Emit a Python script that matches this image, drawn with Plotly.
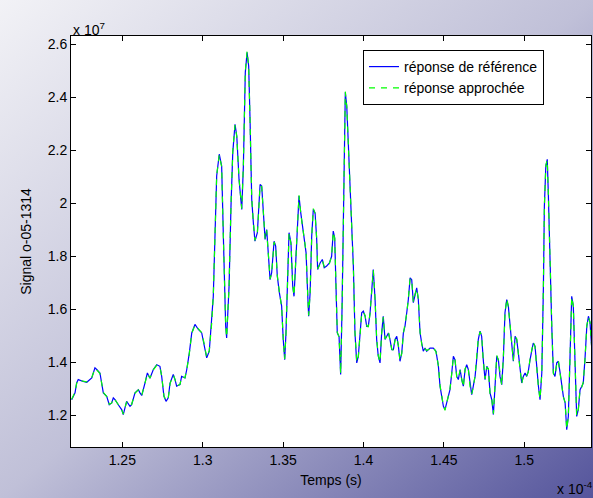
import base64
import plotly.graph_objects as go

# time in units of 1e-4 s
time_e4 = [
    1.2185, 1.2206, 1.2216, 1.2226, 1.2257, 1.2279, 1.2310, 1.2330, 1.2341, 1.2361,
    1.2382, 1.2403, 1.2419, 1.2434, 1.2444, 1.2455, 1.2475, 1.2496, 1.2506, 1.2527,
    1.2548, 1.2558, 1.2579, 1.2600, 1.2610, 1.2621, 1.2641, 1.2656, 1.2672, 1.2693,
    1.2714, 1.2734, 1.2745, 1.2759, 1.2772, 1.2786, 1.2797, 1.2817, 1.2828, 1.2838,
    1.2859, 1.2869, 1.2890, 1.2901, 1.2917, 1.2932, 1.2952, 1.2973, 1.2994, 1.3008,
    1.3025, 1.3041, 1.3056, 1.3066, 1.3077, 1.3087, 1.3103, 1.3118, 1.3128, 1.3134,
    1.3143, 1.3149, 1.3164, 1.3176, 1.3187, 1.3201, 1.3212, 1.3226, 1.3243, 1.3253,
    1.3265, 1.3276, 1.3286, 1.3294, 1.3305, 1.3315, 1.3325, 1.3340, 1.3350, 1.3357,
    1.3367, 1.3377, 1.3388, 1.3398, 1.3408, 1.3419, 1.3429, 1.3444, 1.3454, 1.3464,
    1.3477, 1.3491, 1.3501, 1.3510, 1.3518, 1.3526, 1.3537, 1.3549, 1.3560, 1.3568,
    1.3580, 1.3589, 1.3599, 1.3610, 1.3620, 1.3630, 1.3643, 1.3651, 1.3659, 1.3668,
    1.3678, 1.3688, 1.3699, 1.3709, 1.3715, 1.3730, 1.3744, 1.3756, 1.3771, 1.3788,
    1.3802, 1.3812, 1.3821, 1.3829, 1.3837, 1.3848, 1.3858, 1.3867, 1.3875, 1.3881,
    1.3887, 1.3896, 1.3906, 1.3916, 1.3927, 1.3937, 1.3947, 1.3958, 1.3968, 1.3978,
    1.3989, 1.3999, 1.4010, 1.4020, 1.4030, 1.4041, 1.4051, 1.4061, 1.4072, 1.4082,
    1.4092, 1.4103, 1.4113, 1.4123, 1.4134, 1.4145, 1.4155, 1.4165, 1.4176, 1.4186,
    1.4196, 1.4207, 1.4217, 1.4227, 1.4238, 1.4248, 1.4258, 1.4269, 1.4279, 1.4290,
    1.4300, 1.4310, 1.4321, 1.4331, 1.4341, 1.4352, 1.4362, 1.4372, 1.4383, 1.4393,
    1.4414, 1.4434, 1.4451, 1.4466, 1.4476, 1.4487, 1.4497, 1.4507, 1.4518, 1.4528,
    1.4538, 1.4549, 1.4559, 1.4569, 1.4580, 1.4590, 1.4601, 1.4611, 1.4621, 1.4632,
    1.4642, 1.4652, 1.4663, 1.4673, 1.4683, 1.4694, 1.4704, 1.4714, 1.4725, 1.4735,
    1.4745, 1.4756, 1.4767, 1.4777, 1.4787, 1.4798, 1.4808, 1.4818, 1.4829, 1.4839,
    1.4849, 1.4860, 1.4870, 1.4880, 1.4891, 1.4901, 1.4912, 1.4922, 1.4932, 1.4943,
    1.4953, 1.4963, 1.4974, 1.4984, 1.4994, 1.5005, 1.5015, 1.5025, 1.5036, 1.5047,
    1.5056, 1.5067, 1.5078, 1.5088, 1.5098, 1.5109, 1.5119, 1.5125, 1.5134, 1.5143,
    1.5150, 1.5160, 1.5171, 1.5181, 1.5191, 1.5202, 1.5212, 1.5223, 1.5233, 1.5243,
    1.5254, 1.5264, 1.5274, 1.5285, 1.5295, 1.5305, 1.5316, 1.5326, 1.5336, 1.5347,
    1.5358, 1.5367, 1.5378, 1.5389, 1.5399, 1.5409, 1.5420,
]

# signal in units of 1e7
reference = [
    1.259, 1.285, 1.322, 1.335, 1.328, 1.325, 1.341, 1.379, 1.373, 1.360,
    1.285, 1.272, 1.240, 1.247, 1.266, 1.259, 1.240, 1.222, 1.203, 1.253,
    1.234, 1.240, 1.285, 1.297, 1.285, 1.275, 1.322, 1.360, 1.340, 1.373,
    1.391, 1.385, 1.347, 1.272, 1.253, 1.266, 1.322, 1.354, 1.335, 1.310,
    1.316, 1.347, 1.341, 1.373, 1.436, 1.511, 1.543, 1.524, 1.511, 1.473,
    1.417, 1.442, 1.549, 1.649, 1.889, 2.103, 2.185, 2.140, 1.889, 1.712,
    1.536, 1.492, 1.687, 1.989, 2.191, 2.298, 2.254, 2.090, 1.977, 2.140,
    2.493, 2.569, 2.518, 2.329, 2.015, 1.927, 1.857, 1.889, 2.027, 2.071,
    2.065, 1.977, 1.864, 1.901, 1.813, 1.712, 1.738, 1.857, 1.838, 1.725,
    1.662, 1.612, 1.486, 1.410, 1.511, 1.687, 1.889, 1.851, 1.687, 1.649,
    1.788, 1.914, 2.027, 1.964, 1.914, 1.864, 1.813, 1.687, 1.574, 1.662,
    1.876, 1.977, 1.964, 1.864, 1.750, 1.775, 1.788, 1.757, 1.763, 1.775,
    1.800, 1.895, 1.870, 1.687, 1.511, 1.498, 1.354, 1.612, 1.927, 2.279,
    2.418, 2.367, 2.229, 2.052, 1.927, 1.763, 1.511, 1.398, 1.423, 1.498,
    1.587, 1.593, 1.574, 1.536, 1.536, 1.587, 1.662, 1.750, 1.637, 1.486,
    1.423, 1.398, 1.511, 1.574, 1.486, 1.500, 1.511, 1.486, 1.448, 1.448,
    1.486, 1.498, 1.461, 1.404, 1.436, 1.511, 1.536, 1.587, 1.637, 1.719,
    1.712, 1.625, 1.662, 1.681, 1.637, 1.511, 1.473, 1.442, 1.454, 1.442,
    1.454, 1.454, 1.442, 1.385, 1.310, 1.272, 1.234, 1.222, 1.247, 1.272,
    1.297, 1.360, 1.423, 1.410, 1.347, 1.335, 1.373, 1.335, 1.310, 1.373,
    1.391, 1.373, 1.310, 1.278, 1.310, 1.347, 1.410, 1.486, 1.518, 1.498,
    1.410, 1.335, 1.385, 1.373, 1.285, 1.259, 1.203, 1.310, 1.423, 1.410,
    1.347, 1.316, 1.417, 1.587, 1.637, 1.612, 1.536, 1.461, 1.404, 1.498,
    1.486, 1.436, 1.360, 1.322, 1.347, 1.360, 1.347, 1.366, 1.410, 1.448,
    1.473, 1.461, 1.373, 1.310, 1.259, 1.360, 1.687, 1.989, 2.140, 2.166,
    2.027, 1.763, 1.536, 1.360, 1.347, 1.398, 1.404, 1.360, 1.310, 1.272,
    1.247, 1.146, 1.196, 1.486, 1.649, 1.612, 1.360, 1.196, 1.222, 1.297,
    1.310, 1.322, 1.417, 1.536, 1.574, 1.549, 1.448,
]

approx = [
    1.261, 1.287, 1.320, 1.334, 1.329, 1.326, 1.342, 1.377, 1.372, 1.358,
    1.287, 1.271, 1.242, 1.246, 1.265, 1.258, 1.241, 1.223, 1.205, 1.251,
    1.235, 1.241, 1.284, 1.296, 1.286, 1.276, 1.321, 1.358, 1.341, 1.372,
    1.389, 1.384, 1.348, 1.274, 1.255, 1.265, 1.320, 1.352, 1.336, 1.311,
    1.317, 1.346, 1.342, 1.372, 1.434, 1.509, 1.541, 1.525, 1.512, 1.474,
    1.419, 1.444, 1.547, 1.652, 1.892, 2.106, 2.182, 2.138, 1.886, 1.715,
    1.539, 1.495, 1.684, 1.992, 2.194, 2.295, 2.251, 2.093, 1.980, 2.143,
    2.497, 2.573, 2.514, 2.325, 2.018, 1.930, 1.860, 1.886, 2.024, 2.068,
    2.062, 1.980, 1.867, 1.898, 1.810, 1.715, 1.735, 1.854, 1.835, 1.728,
    1.665, 1.609, 1.489, 1.413, 1.508, 1.690, 1.886, 1.848, 1.690, 1.652,
    1.785, 1.911, 2.030, 1.961, 1.911, 1.861, 1.816, 1.690, 1.577, 1.659,
    1.873, 1.980, 1.961, 1.867, 1.753, 1.772, 1.785, 1.760, 1.760, 1.772,
    1.803, 1.892, 1.867, 1.690, 1.514, 1.495, 1.357, 1.609, 1.930, 2.282,
    2.421, 2.364, 2.226, 2.055, 1.924, 1.766, 1.514, 1.401, 1.420, 1.495,
    1.584, 1.590, 1.577, 1.539, 1.533, 1.584, 1.665, 1.747, 1.640, 1.489,
    1.426, 1.401, 1.508, 1.571, 1.489, 1.497, 1.514, 1.483, 1.451, 1.445,
    1.483, 1.495, 1.464, 1.407, 1.433, 1.508, 1.539, 1.584, 1.640, 1.716,
    1.709, 1.628, 1.659, 1.678, 1.640, 1.514, 1.470, 1.445, 1.451, 1.445,
    1.451, 1.457, 1.439, 1.388, 1.313, 1.269, 1.237, 1.219, 1.250, 1.269,
    1.300, 1.357, 1.420, 1.413, 1.344, 1.338, 1.370, 1.338, 1.307, 1.376,
    1.388, 1.376, 1.307, 1.281, 1.307, 1.350, 1.407, 1.489, 1.515, 1.501,
    1.407, 1.338, 1.382, 1.376, 1.282, 1.262, 1.206, 1.307, 1.426, 1.407,
    1.350, 1.313, 1.420, 1.584, 1.640, 1.609, 1.539, 1.458, 1.407, 1.495,
    1.489, 1.433, 1.363, 1.319, 1.350, 1.357, 1.350, 1.363, 1.413, 1.445,
    1.476, 1.458, 1.376, 1.307, 1.262, 1.357, 1.690, 1.986, 2.143, 2.163,
    2.030, 1.760, 1.539, 1.357, 1.350, 1.395, 1.407, 1.357, 1.313, 1.269,
    1.250, 1.149, 1.193, 1.489, 1.646, 1.615, 1.357, 1.199, 1.219, 1.300,
    1.307, 1.325, 1.414, 1.539, 1.571, 1.552, 1.451,
]

x_ticks = [1.25, 1.30, 1.35, 1.40, 1.45, 1.50]
x_tick_labels = ["1.25", "1.3", "1.35", "1.4", "1.45", "1.5"]
y_ticks = [1.2, 1.4, 1.6, 1.8, 2.0, 2.2, 2.4, 2.6]
y_tick_labels = ["1.2", "1.4", "1.6", "1.8", "2", "2.2", "2.4", "2.6"]

W, H = 593, 498
ML, MR, MT, MB = 71, 2, 36, 51
PW, PH = W - ML - MR, H - MT - MB

svg = (
    f'<svg xmlns="http://www.w3.org/2000/svg" width="{W}" height="{H}" '
    f'viewBox="0 0 {W} {H}" preserveAspectRatio="none">'
    '<defs><linearGradient id="g" x1="0" y1="0" x2="1" y2="1">'
    '<stop offset="0" stop-color="#f2f2f6"/>'
    '<stop offset="0.5" stop-color="#c0c0d8"/>'
    '<stop offset="1" stop-color="#55559c"/>'
    '</linearGradient></defs>'
    f'<rect x="0" y="0" width="{W}" height="{H}" fill="url(#g)"/></svg>'
)
bg_src = "data:image/svg+xml;base64," + base64.b64encode(svg.encode()).decode()

FONT = "Liberation Sans, Arial, sans-serif"

fig = go.Figure()
fig.add_trace(go.Scatter(
    x=time_e4, y=reference, mode="lines", name="réponse de référence",
    line=dict(color="#0000ff", width=1.2),
))
fig.add_trace(go.Scatter(
    x=time_e4, y=approx, mode="lines", name="réponse approchée",
    line=dict(color="#00ff00", width=1.2, dash="6px,6px"),
))

fig.update_layout(
    width=W, height=H,
    margin=dict(l=ML, r=MR, t=MT, b=MB),
    paper_bgcolor="#c0c0d8",
    plot_bgcolor="white",
    font=dict(family=FONT, size=14, color="black"),
    showlegend=True,
    legend=dict(
        x=(363 - ML) / PW, xanchor="left",
        y=(H - MB - 50) / PH, yanchor="top",
        bgcolor="white", bordercolor="black", borderwidth=1,
        font=dict(size=14), tracegroupgap=0,
        entrywidth=160, entrywidthmode="pixels",
    ),
    images=[dict(
        source=bg_src, xref="paper", yref="paper",
        x=-ML / PW, y=1 + MT / PH, sizex=W / PW, sizey=H / PH,
        xanchor="left", yanchor="top", sizing="stretch", layer="below",
    )],
    shapes=[dict(
        type="rect", xref="paper", yref="paper", x0=0, x1=1, y0=0, y1=1,
        fillcolor="white", line=dict(width=0), layer="below",
    )],
    xaxis=dict(
        range=[1.2181, 1.5415], tickvals=x_ticks, ticktext=x_tick_labels,
        showgrid=False, zeroline=False, showline=True, linecolor="black",
        linewidth=1, mirror="allticks", ticks="inside", ticklen=5,
        tickcolor="black", tickfont=dict(size=14),
        title=dict(text="Temps (s)", font=dict(size=14), standoff=8),
    ),
    yaxis=dict(
        range=[1.0807, 2.631], tickvals=y_ticks, ticktext=y_tick_labels,
        showgrid=False, zeroline=False, showline=True, linecolor="black",
        linewidth=1, mirror="allticks", ticks="inside", ticklen=5,
        tickcolor="black", tickfont=dict(size=14),
        title=dict(text="Signal o-05-1314", font=dict(size=14), standoff=12),
    ),
    annotations=[
        dict(text="x 10<sup>7</sup>", xref="paper", yref="paper", x=0, y=1,
             xanchor="left", yanchor="bottom", yshift=-4, showarrow=False,
             font=dict(size=14)),
        dict(text="x 10<sup>-4</sup>", xref="paper", yref="paper", x=1, y=0,
             xanchor="right", yanchor="top", xshift=4, yshift=-30,
             showarrow=False, font=dict(size=14)),
    ],
)

fig.write_html("out.html")
